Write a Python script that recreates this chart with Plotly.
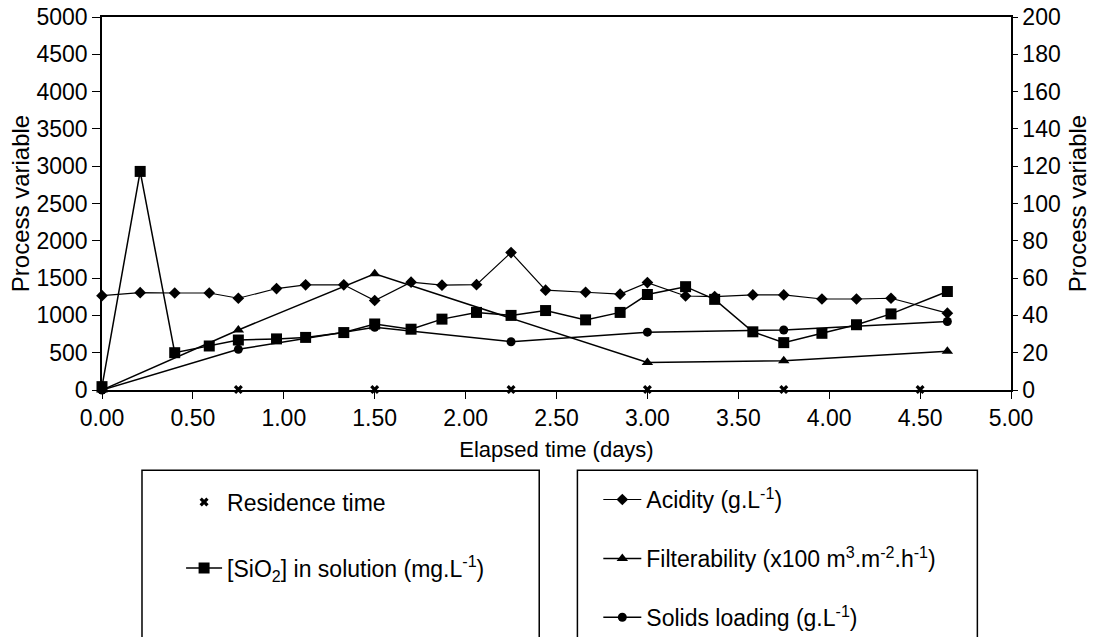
import plotly.graph_objects as go

# Sampling times (days)
t_fine = [0.00, 0.21, 0.40, 0.59, 0.75, 0.96, 1.12, 1.33, 1.50, 1.70, 1.87, 2.06,
          2.25, 2.44, 2.66, 2.85, 3.00, 3.21, 3.37, 3.58, 3.75, 3.96, 4.15, 4.34, 4.65]
t_residence = [0.00, 0.75, 1.50, 2.25, 3.00, 3.75, 4.50]
t_filter = [0.00, 0.75, 1.50, 3.00, 3.75, 4.65]
t_solids = [0.00, 0.75, 1.50, 2.25, 3.00, 3.75, 4.65]

# Left-axis series
residence_time = [6, 6, 6, 6, 6, 6, 6]
sio2 = [45, 2930, 500, 590, 670, 685, 705, 770, 885, 815, 950, 1040, 1000,
        1065, 940, 1040, 1280, 1385, 1215, 780, 635, 760, 875, 1020, 1320]

# Right-axis series
acidity = [50.6, 52.2, 52.0, 52.0, 49.2, 54.4, 56.4, 56.4, 48.0, 57.8, 56.2, 56.5,
           73.7, 53.5, 52.4, 51.4, 57.6, 50.4, 50.1, 51.0, 51.0, 48.8, 48.8, 49.2, 41.2]
filterability = [0, 32.2, 62.3, 14.7, 15.7, 20.8]
solids = [0, 21.8, 33.6, 25.9, 31.0, 32.2, 36.7]

FONT = "Liberation Sans, Arial, sans-serif"
BLACK = "#000000"
TICK_SIZE = 23
LEG_SIZE = 23

fig = go.Figure()

fig.add_trace(go.Scatter(
    x=t_residence, y=residence_time, mode="markers", name="Residence time",
    marker=dict(symbol="x", size=8, color=BLACK, line=dict(width=0)),
    cliponaxis=False, legend="legend", legendgroup="a"))
fig.add_trace(go.Scatter(
    x=t_fine, y=sio2, mode="lines+markers",
    name="[SiO<sub>2</sub>] in solution (mg.L<sup>-1</sup>)",
    line=dict(color=BLACK, width=1.5),
    marker=dict(symbol="square", size=11, color=BLACK),
    cliponaxis=False, legend="legend", legendgroup="b"))

fig.add_trace(go.Scatter(
    x=t_fine, y=acidity, mode="lines+markers", yaxis="y2",
    name="Acidity (g.L<sup>-1</sup>)",
    line=dict(color=BLACK, width=1.2),
    marker=dict(symbol="diamond", size=9, color=BLACK),
    cliponaxis=False, legend="legend2", legendgroup="c"))
fig.add_trace(go.Scatter(
    x=t_filter, y=filterability, mode="lines+markers", yaxis="y2",
    name="Filterability (x100 m<sup>3</sup>.m<sup>-2</sup>.h<sup>-1</sup>)",
    line=dict(color=BLACK, width=1.5),
    marker=dict(symbol="triangle-up", size=10, color=BLACK),
    cliponaxis=False, legend="legend2", legendgroup="d"))
fig.add_trace(go.Scatter(
    x=t_solids, y=solids, mode="lines+markers", yaxis="y2",
    name="Solids loading (g.L<sup>-1</sup>)",
    line=dict(color=BLACK, width=1.5),
    marker=dict(symbol="circle", size=9, color=BLACK),
    cliponaxis=False, legend="legend2", legendgroup="e"))

# Frames around the two legend panels
for x0, x1 in [(0.044, 0.481), (0.523, 0.963)]:
    fig.add_shape(type="rect", xref="paper", yref="paper",
                  x0=x0, x1=x1, y0=-0.215, y1=-0.80,
                  line=dict(color=BLACK, width=1.5), fillcolor="rgba(0,0,0,0)")

fig.update_layout(
    width=1099, height=637,
    margin=dict(l=102, r=88, t=17, b=247, autoexpand=False),
    paper_bgcolor="white", plot_bgcolor="white",
    font=dict(family=FONT, size=TICK_SIZE, color=BLACK),
    xaxis=dict(range=[0, 5], dtick=0.5, tickformat=".2f",
               showline=True, linecolor=BLACK, linewidth=1.5, mirror=True,
               ticks="outside", ticklen=7, tickcolor=BLACK,
               ticklabelstandoff=0,
               showgrid=False, zeroline=False,
               tickfont=dict(size=TICK_SIZE),
               title=dict(text="Elapsed time (days)", font=dict(size=22), standoff=11)),
    yaxis=dict(range=[0, 5000], dtick=500,
               showline=True, linecolor=BLACK, linewidth=1.5,
               ticks="outside", ticklen=8, tickcolor=BLACK,
               showgrid=False, zeroline=False,
               tickfont=dict(size=TICK_SIZE),
               title=dict(text="Process variable", font=dict(size=24), standoff=0)),
    yaxis2=dict(range=[0, 200], dtick=20, overlaying="y", side="right",
                showline=True, linecolor=BLACK, linewidth=1.5,
                ticks="outside", ticklen=5, tickcolor=BLACK,
                showgrid=False, zeroline=False,
                tickfont=dict(size=TICK_SIZE),
                title=dict(text="Process variable", font=dict(size=24), standoff=9)),
    legend=dict(x=0.087, y=-0.243, xanchor="left", yanchor="top",
                bgcolor="rgba(0,0,0,0)", borderwidth=0, itemwidth=36,
                traceorder="grouped", tracegroupgap=33,
                font=dict(size=LEG_SIZE)),
    legend2=dict(x=0.546, y=-0.236, xanchor="left", yanchor="top",
                 bgcolor="rgba(0,0,0,0)", borderwidth=0, itemwidth=38,
                 traceorder="grouped", tracegroupgap=26,
                 font=dict(size=LEG_SIZE)),
)

fig.write_html("out.html")
